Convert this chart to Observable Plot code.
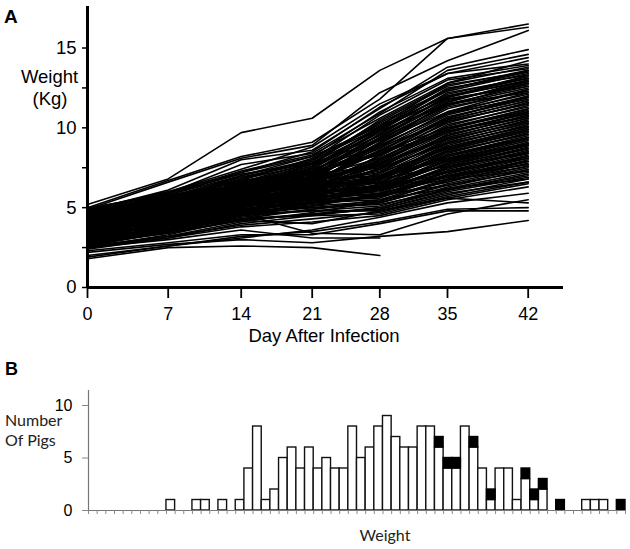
<!DOCTYPE html>
<html>
<head>
<meta charset="utf-8">
<script src="https://cdn.jsdelivr.net/npm/d3@7"></script>
<script src="https://cdn.jsdelivr.net/npm/@observablehq/plot@0.6"></script>
<style>
  html, body { margin: 0; padding: 0; background: #fff; }
  #wrap { position: relative; width: 630px; height: 549px; overflow: hidden; }
  #panelA, #panelB, #overlay { position: absolute; left: 0; }
  #panelA { top: 0; }
  #panelB { top: 350px; }
  #overlay { top: 0; pointer-events: none; }
</style>
</head>
<body>
<div id="wrap">
  <div id="panelA"></div>
  <div id="panelB"></div>
  <svg id="overlay" width="630" height="549"></svg>
</div>
<script>
// ---------- Panel A data: weight (kg) of each pig on each day ----------
const days = [0, 7, 14, 21, 28, 35, 42];

const pigsHigh = [
  [5.2, 6.8, 9.7, 10.6, 13.6, 15.6, 16.5],
  [5.0, 6.7, 8.2, 9.1, 11.8, 15.6, 16.3],
  [4.9, 6.6, 8.1, 8.9, 12.2, 14.2, 16.1],
  [4.8, 6.1, 8.0, 8.6, 11.2, 13.8, 14.9],
  [4.6, 5.9, 7.7, 8.4, 10.9, 13.6, 14.6],
  [4.9, 6.0, 7.4, 8.8, 11.5, 13.4, 14.4]
];

const pigsUpper = [
  [4.7, 5.8, 7.2, 8.5, 11.3, 13.4, 14.0],
  [4.4, 5.6, 7.0, 8.2, 11.0, 13.1, 13.9],
  [4.9, 5.9, 7.3, 8.3, 10.6, 12.8, 13.8],
  [4.2, 5.3, 6.8, 8.0, 10.8, 13.0, 13.7],
  [4.6, 5.7, 6.9, 7.9, 10.4, 12.6, 13.6],
  [3.9, 5.0, 6.5, 7.7, 10.5, 12.7, 13.5],
  [4.5, 5.5, 6.7, 8.1, 10.2, 12.3, 13.4],
  [4.1, 5.2, 6.6, 7.6, 10.0, 12.5, 13.3],
  [4.8, 5.9, 7.1, 7.8, 9.9, 12.1, 13.2],
  [3.7, 4.8, 6.2, 7.4, 9.8, 12.2, 13.1],
  [4.3, 5.4, 6.4, 7.5, 9.7, 11.9, 13.0],
  [4.0, 5.1, 6.3, 7.2, 9.6, 12.0, 12.9],
  [4.6, 5.6, 6.8, 7.7, 9.5, 11.7, 12.8],
  [3.5, 4.6, 6.0, 7.0, 9.4, 11.8, 12.7],
  [4.4, 5.3, 6.5, 7.3, 9.2, 11.5, 12.6],
  [3.8, 4.9, 6.1, 7.1, 9.3, 11.4, 12.5],
  [3.0, 4.2, 5.8, 7.2, 9.9, 12.4, 13.6],
  [2.6, 3.8, 5.2, 6.5, 9.0, 11.6, 13.0],
  [3.4, 4.6, 6.0, 7.5, 10.1, 12.8, 14.2],
  [2.8, 3.9, 5.0, 6.1, 8.3, 10.6, 12.0],
  [3.2, 4.5, 5.9, 7.0, 9.6, 11.9, 13.3],
  [4.1, 5.0, 6.2, 7.3, 9.4, 11.6, 12.9],
  [3.9, 5.1, 6.6, 7.8, 10.3, 12.4, 13.5],
  [4.6, 5.8, 7.0, 8.0, 10.0, 11.8, 12.6],
  [3.5, 4.8, 6.4, 7.6, 9.8, 11.5, 12.2],
  [4.3, 5.5, 6.9, 7.8, 9.2, 11.0, 12.4],
  [2.9, 4.1, 5.5, 6.7, 9.3, 11.4, 12.8],
  [4.8, 6.0, 7.2, 8.2, 10.1, 12.0, 13.1]
];

const pigsMiddle = [
  [4.2, 5.2, 6.2, 6.9, 9.0, 11.2, 12.4],
  [3.6, 4.7, 5.8, 6.8, 9.1, 11.3, 12.3],
  [4.7, 5.7, 6.6, 7.4, 8.9, 10.9, 12.2],
  [3.3, 4.4, 5.6, 6.6, 8.8, 11.0, 12.1],
  [4.0, 5.0, 6.0, 7.0, 8.7, 10.8, 12.0],
  [4.5, 5.4, 6.3, 6.7, 8.6, 10.6, 11.9],
  [3.4, 4.5, 5.7, 6.5, 8.5, 10.7, 11.8],
  [3.9, 4.8, 5.9, 6.8, 8.4, 10.5, 11.7],
  [4.3, 5.3, 6.4, 7.2, 8.3, 10.3, 11.6],
  [3.1, 4.2, 5.4, 6.4, 8.2, 10.4, 11.5],
  [4.8, 5.6, 6.5, 6.9, 8.1, 10.1, 11.4],
  [3.7, 4.6, 5.6, 6.3, 8.0, 10.2, 11.3],
  [4.1, 5.1, 6.1, 6.7, 7.9, 10.0, 11.2],
  [3.2, 4.3, 5.5, 6.2, 7.8, 9.9, 11.1],
  [4.4, 5.2, 6.2, 6.6, 7.7, 9.7, 11.0],
  [3.5, 4.4, 5.3, 6.1, 7.9, 9.8, 10.9],
  [4.6, 5.5, 6.4, 7.1, 7.6, 9.5, 10.8],
  [3.0, 4.0, 5.2, 6.0, 7.5, 9.6, 10.7],
  [3.8, 4.7, 5.7, 6.4, 7.4, 9.4, 10.6],
  [4.2, 5.1, 6.0, 6.5, 7.3, 9.2, 10.5],
  [2.9, 3.9, 5.0, 5.8, 7.2, 9.3, 10.4],
  [3.6, 4.5, 5.4, 6.0, 7.1, 9.1, 10.3],
  [4.9, 5.6, 6.3, 6.8, 7.0, 8.9, 10.2],
  [3.3, 4.2, 5.1, 5.7, 6.9, 9.0, 10.1],
  [4.0, 4.9, 5.8, 6.3, 6.8, 8.8, 10.0],
  [2.8, 3.7, 4.8, 5.6, 6.9, 8.7, 9.9],
  [3.9, 4.7, 5.5, 6.1, 6.7, 8.6, 9.8],
  [4.5, 5.3, 6.1, 6.6, 6.6, 8.4, 9.7],
  [3.1, 4.0, 4.9, 5.5, 6.5, 8.5, 9.6],
  [3.7, 4.4, 5.3, 5.9, 6.4, 8.3, 9.5],
  [4.3, 5.0, 5.9, 6.2, 6.6, 8.2, 9.4],
  [2.7, 3.6, 4.6, 5.3, 6.3, 8.1, 9.3],
  [5.0, 5.8, 6.4, 6.6, 7.0, 8.1, 9.0],
  [3.7, 4.7, 5.9, 6.9, 8.9, 10.9, 11.9],
  [4.4, 5.4, 6.5, 7.2, 8.8, 10.4, 11.5],
  [3.3, 4.4, 5.7, 6.6, 8.6, 10.5, 11.7],
  [4.0, 5.2, 6.4, 7.1, 8.5, 10.0, 11.0],
  [3.6, 4.6, 5.8, 6.5, 8.1, 9.9, 11.2],
  [4.5, 5.6, 6.7, 7.3, 8.4, 9.8, 10.7],
  [3.0, 4.1, 5.3, 6.3, 8.0, 9.7, 10.9],
  [4.2, 5.1, 6.1, 6.7, 7.8, 9.3, 10.4],
  [3.8, 4.8, 5.8, 6.4, 7.6, 9.4, 10.6],
  [2.8, 3.9, 5.1, 6.0, 7.7, 9.5, 10.8],
  [4.7, 5.5, 6.4, 6.9, 7.5, 9.0, 10.1],
  [3.4, 4.3, 5.4, 6.1, 7.4, 9.1, 10.3],
  [4.1, 4.9, 5.9, 6.5, 7.2, 8.7, 9.9],
  [3.1, 4.0, 5.0, 5.8, 7.0, 8.8, 10.0],
  [3.9, 4.6, 5.5, 6.2, 6.9, 8.5, 9.6],
  [4.4, 5.2, 6.0, 6.4, 6.8, 8.3, 9.4],
  [2.7, 3.7, 4.8, 5.6, 6.8, 8.6, 9.8]
];

const pigsLower = [
  [3.4, 4.2, 5.0, 5.6, 6.2, 8.0, 9.2],
  [4.1, 4.8, 5.6, 6.0, 6.4, 7.9, 9.1],
  [3.0, 3.8, 4.7, 5.4, 6.1, 7.8, 9.0],
  [4.7, 5.4, 6.2, 6.5, 6.5, 7.7, 8.9],
  [3.6, 4.3, 5.1, 5.7, 6.0, 7.6, 8.8],
  [2.6, 3.5, 4.5, 5.1, 5.9, 7.5, 8.7],
  [3.9, 4.6, 5.4, 5.8, 6.1, 7.4, 8.6],
  [3.2, 3.9, 4.8, 5.3, 5.8, 7.3, 8.5],
  [4.4, 5.1, 5.7, 6.1, 6.2, 7.2, 8.4],
  [2.9, 3.7, 4.6, 5.2, 5.7, 7.1, 8.3],
  [3.5, 4.1, 4.9, 5.4, 5.6, 7.0, 8.2],
  [4.0, 4.6, 5.3, 5.6, 5.9, 6.9, 8.1],
  [2.5, 3.3, 4.3, 4.9, 5.5, 6.8, 8.0],
  [3.3, 4.0, 4.7, 5.1, 5.4, 6.7, 7.9],
  [3.8, 4.4, 5.2, 5.5, 5.7, 6.6, 7.8],
  [2.8, 3.5, 4.4, 4.9, 5.3, 6.5, 7.6],
  [4.2, 4.8, 5.5, 5.7, 5.8, 6.4, 7.5],
  [3.1, 3.7, 4.5, 4.8, 5.1, 6.3, 7.4],
  [2.4, 3.1, 4.0, 4.5, 5.0, 6.2, 7.2],
  [3.6, 4.1, 4.8, 5.0, 5.2, 6.1, 7.1],
  [2.7, 3.4, 4.2, 4.6, 4.9, 6.0, 6.9],
  [3.4, 3.9, 4.6, 4.8, 4.8, 5.8, 6.8],
  [2.6, 3.2, 3.9, 4.3, 4.7, 5.7, 6.6],
  [3.0, 3.6, 4.3, 4.5, 4.6, 5.6, 6.5],
  [2.5, 3.1, 3.8, 4.1, 4.5, 5.5, 6.3],
  [4.9, 5.5, 6.0, 6.3, 6.8, 7.6, 8.4],
  [4.7, 5.2, 5.6, 5.9, 6.2, 7.0, 7.7],
  [4.5, 5.0, 5.4, 5.5, 5.9, 6.8, 7.3],
  [3.5, 4.3, 5.2, 5.8, 6.6, 8.2, 9.3],
  [4.8, 5.5, 6.2, 6.5, 6.9, 8.0, 9.0],
  [3.2, 3.9, 4.9, 5.5, 6.4, 7.9, 8.9],
  [4.0, 4.7, 5.5, 5.9, 6.3, 7.7, 8.7],
  [2.6, 3.5, 4.5, 5.3, 6.2, 7.8, 8.9],
  [3.7, 4.3, 5.1, 5.6, 6.1, 7.5, 8.5],
  [4.3, 4.9, 5.7, 6.0, 6.3, 7.3, 8.2],
  [2.9, 3.6, 4.5, 5.1, 5.8, 7.2, 8.1],
  [3.5, 4.1, 4.9, 5.3, 5.7, 7.0, 7.9],
  [4.6, 5.1, 5.8, 6.0, 6.1, 6.9, 7.7],
  [2.5, 3.2, 4.1, 4.7, 5.4, 6.7, 7.6],
  [3.3, 3.8, 4.6, 5.0, 5.3, 6.4, 7.3],
  [2.8, 3.4, 4.2, 4.6, 5.0, 6.1, 7.0],
  [4.0, 4.5, 5.1, 5.3, 5.5, 6.2, 6.8],
  [3.1, 3.6, 4.3, 4.6, 4.9, 5.9, 6.6]
];

// lightest pigs (some with no weight after day 28)
const pigsLow = [
  [2.0, 2.6, 3.2, 3.5, 4.1, 4.9, 5.0],
  [2.3, 2.8, 3.3, 3.3, 4.0, 4.8, 4.8],
  [2.2, 2.7, 3.0, 2.8, 3.2, 3.5, 4.2],
  [1.8, 2.5, 2.6, 2.5, 2.0],
  [2.5, 3.0, 3.6, 3.1, 3.1],
  [3.4, 3.9, 4.6, 3.4, 3.3, 4.6, 5.5],
  [2.9, 3.5, 4.2, 4.0, 4.8, 5.6, 5.3],
  [1.9, 2.6, 3.1, 3.6, 4.4, 5.3, 5.9]
];

// ---------- Panel B data: number of pigs per weight bin ----------
const whiteCounts = [0,0,0,0,0,0,0,0,0,1, 0,0,1,1,0,1,0,1,4,8, 1,2,5,6,4,6,4,5,4,4,
                     8,5,6,8,9,7,6,6,8,8, 6,4,4,8,6,4,1,4,4,1, 3,1,2,0,0,0,0,1,1,1, 0,0];
const blackCounts = [0,0,0,0,0,0,0,0,0,0, 0,0,0,0,0,0,0,0,0,0, 0,0,0,0,0,0,0,0,0,0,
                     0,0,0,0,0,0,0,0,0,0, 1,1,1,0,1,0,1,0,0,0, 1,1,1,0,1,0,0,0,0,0, 0,1];

// ---------- build tables ----------
const allPigs = [...pigsHigh, ...pigsUpper, ...pigsMiddle, ...pigsLower, ...pigsLow];
const lineRows = [];
allPigs.forEach((row, p) => row.forEach((w, j) => lineRows.push({pig: p, day: days[j], weight: w})));

const whiteRows = whiteCounts.map((c, i) => ({bin: i, lo: 0, hi: c})).filter(d => d.hi > 0);
const blackRows = blackCounts.map((c, i) => ({bin: i, lo: whiteCounts[i], hi: whiteCounts[i] + c})).filter(d => d.hi > d.lo);

const sans = "'Liberation Sans', Arial, sans-serif";

// ---------- Panel A ----------
const chartA = Plot.plot({
  width: 630,
  height: 350,
  marginLeft: 87,
  marginRight: 67,
  marginTop: 6,
  marginBottom: 63,
  style: {fontFamily: sans, fontSize: "18px", color: "#000", background: "transparent"},
  x: {type: "linear", domain: days, range: [87, 167.7, 240.7, 311.7, 379.3, 447, 527.7]},
  y: {domain: [0, 17.6]},
  marks: [
    Plot.line(lineRows, {x: "day", y: "weight", z: "pig", stroke: "#000", strokeWidth: 1.6}),
    Plot.axisX({ticks: days, tickSize: 11, tickPadding: 9, strokeWidth: 1.8, label: null, fontSize: 18}),
    Plot.axisY({ticks: [0, 2.5, 5, 7.5, 10, 12.5, 15], tickFormat: d => (d % 5 === 0 ? String(d) : ""),
                tickSize: 5, tickPadding: 6, strokeWidth: 1.5, label: null, fontSize: 18.5}),
    Plot.ruleY([0], {strokeWidth: 3, stroke: "#000"}),
    Plot.ruleX([0], {strokeWidth: 3, stroke: "#000"})
  ]
});
document.getElementById("panelA").appendChild(chartA);

// ---------- Panel B ----------
const binTicks = d3.range(0, whiteCounts.length + 1);
const chartB = Plot.plot({
  width: 630,
  height: 199,
  marginLeft: 88,
  marginRight: 5,
  marginTop: 40,
  marginBottom: 39,
  style: {fontFamily: sans, fontSize: "16px", color: "#000", background: "transparent"},
  x: {domain: [0, whiteCounts.length]},
  y: {domain: [0, 11.43]},
  marks: [
    Plot.rect(whiteRows, {x1: "bin", x2: d => d.bin + 1, y1: "lo", y2: "hi", fill: "#fff", stroke: "#111", strokeWidth: 1.4}),
    Plot.rect(blackRows, {x1: "bin", x2: d => d.bin + 1, y1: "lo", y2: "hi", fill: "#000", stroke: "#000", strokeWidth: 1.4}),
    Plot.ruleY([0], {stroke: "#777", strokeWidth: 1.2}),
    Plot.ruleX([0], {stroke: "#777", strokeWidth: 1.2}),
    Plot.axisX({ticks: binTicks, tickFormat: () => "", tickSize: 4, stroke: "#888", label: null}),
    Plot.axisY({ticks: [0, 5, 10], tickSize: 6, tickPadding: 10, stroke: "#888", label: null, fontSize: 16})
  ]
});
document.getElementById("panelB").appendChild(chartB);

// ---------- titles and axis names ----------
const ov = d3.select("#overlay");
const calib = "Lato, 'Open Sans', sans-serif";
ov.append("text").attr("x", 4).attr("y", 22.5).attr("font-family", sans).attr("font-weight", "bold")
  .attr("font-size", 19).text("A");
ov.append("text").attr("x", 49.5).attr("y", 83).attr("text-anchor", "middle").attr("font-family", sans)
  .attr("font-size", 18.5).text("Weight");
ov.append("text").attr("x", 50).attr("y", 105).attr("text-anchor", "middle").attr("font-family", sans)
  .attr("font-size", 18.5).text("(Kg)");
ov.append("text").attr("x", 324).attr("y", 341.5).attr("text-anchor", "middle").attr("font-family", sans)
  .attr("font-size", 18.5).text("Day After Infection");
ov.append("text").attr("x", 5).attr("y", 375).attr("font-family", sans).attr("font-weight", "bold")
  .attr("font-size", 18).text("B");
ov.append("text").attr("x", 5).attr("y", 426).attr("font-family", calib).attr("fill", "#222")
  .attr("font-size", 16).text("Number");
ov.append("text").attr("x", 5).attr("y", 445.5).attr("font-family", calib).attr("fill", "#222")
  .attr("font-size", 16).text("Of Pigs");
ov.append("text").attr("x", 385).attr("y", 540.5).attr("text-anchor", "middle").attr("font-family", calib)
  .attr("fill", "#222").attr("font-size", 16).text("Weight");
</script>
</body>
</html>
